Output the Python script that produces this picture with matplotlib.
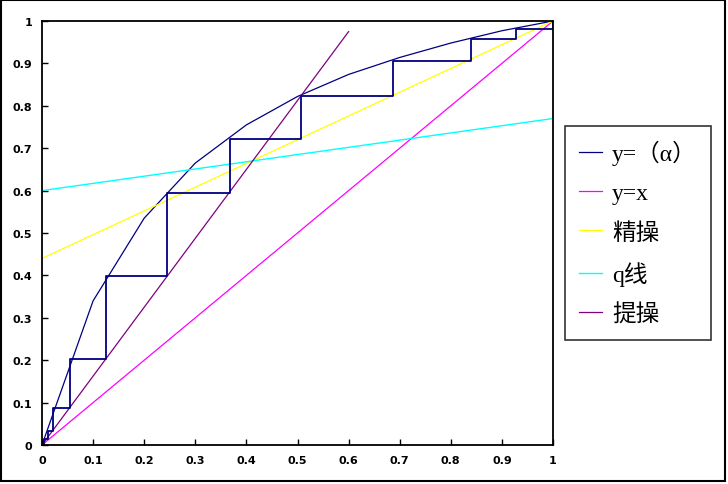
import matplotlib
matplotlib.use('Agg')
import matplotlib.pyplot as plt
from matplotlib.patches import Rectangle

# equilibrium curve y=(alpha)
eq_x = [0.0, 0.1, 0.2, 0.3, 0.4, 0.5, 0.6, 0.7, 0.8, 0.9, 1.0]
eq_y = [0.0, 0.34, 0.535, 0.665, 0.755, 0.822, 0.874, 0.914, 0.948, 0.977, 1.0]

# diagonal y=x
diag_x = [0.0, 1.0]
diag_y = [0.0, 1.0]

# rectifying line (精操)
rect_x = [0.0, 1.0]
rect_y = [0.44, 1.0]

# q line
q_x = [0.0, 1.0]
q_y = [0.6, 0.77]

# stripping line (提操)
strip_x = [0.0, 0.6]
strip_y = [0.0, 0.975]

# stage stepping
step_x = [1.0, 1.0, 0.928, 0.928, 0.84, 0.84, 0.687, 0.687, 0.507, 0.507,
          0.367, 0.367, 0.245, 0.245, 0.126, 0.126, 0.055, 0.055, 0.022,
          0.022, 0.011, 0.011, 0.004, 0.004]
step_y = [1.0, 0.981, 0.981, 0.957, 0.957, 0.906, 0.906, 0.822, 0.822, 0.721,
          0.721, 0.594, 0.594, 0.399, 0.399, 0.204, 0.204, 0.0865, 0.0865,
          0.034, 0.034, 0.015, 0.015, 0.0]

labels = ['y=（α）', 'y=x', '精操', 'q线', '提操']

fig = plt.figure(figsize=(7.28, 4.85), dpi=100)
ax = fig.add_axes([42 / 728, 39 / 485, 511 / 728, 424 / 485])

l1, = ax.plot(eq_x, eq_y, color='#000080', lw=0.9)
l2, = ax.plot(diag_x, diag_y, color='#ff00ff', lw=0.9)
l3, = ax.plot(rect_x, rect_y, color='#ffff00', lw=0.9)
l4, = ax.plot(q_x, q_y, color='#00ffff', lw=1.0)
l5, = ax.plot(strip_x, strip_y, color='#800080', lw=0.9)
ax.plot(step_x, step_y, color='#000080', lw=1.3)

ax.set_xlim(0, 1)
ax.set_ylim(0, 1)
ticks = [0, 0.1, 0.2, 0.3, 0.4, 0.5, 0.6, 0.7, 0.8, 0.9, 1]
tick_labels = ['0', '0.1', '0.2', '0.3', '0.4', '0.5', '0.6', '0.7', '0.8', '0.9', '1']
ax.set_xticks(ticks)
ax.set_xticklabels(tick_labels)
ax.set_yticks(ticks)
ax.set_yticklabels(tick_labels)
ax.tick_params(direction='in', length=4, width=1, pad=7, labelsize=8)
for lab in ax.get_xticklabels() + ax.get_yticklabels():
    lab.set_fontweight('bold')
for sp in ax.spines.values():
    sp.set_linewidth(1.3)

leg = fig.legend([l1, l2, l3, l4, l5], labels, loc='upper left',
                 bbox_to_anchor=(565 / 728, 1 - 127 / 485),
                 prop={'family': ['Liberation Serif', 'Noto Sans CJK SC'], 'size': 17},
                 fancybox=False, frameon=True, handlelength=0.95, handletextpad=0.45,
                 labelspacing=0.74, borderpad=0.6, borderaxespad=0)
leg.get_frame().set_edgecolor('black')
leg.get_frame().set_linewidth(1.2)

# outer border of the picture
fig.patches.append(Rectangle((1 / 728, 3 / 485), 724 / 728, 481 / 485,
                             transform=fig.transFigure, fill=False,
                             edgecolor='black', lw=1.5))

fig.savefig('out.png', dpi=100)
